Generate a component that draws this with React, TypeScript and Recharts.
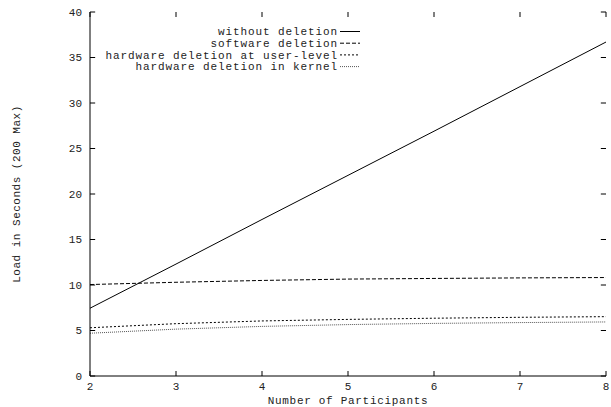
import React from 'react';
import { LineChart, Line, XAxis, YAxis, ReferenceLine } from 'recharts';

const participants = [2, 3, 4, 5, 6, 7, 8];
const withoutDeletion = [7.45, 12.3, 17.2, 22.05, 26.9, 31.8, 36.7];
const softwareDeletion = [10.05, 10.3, 10.5, 10.65, 10.72, 10.78, 10.82];
const hwUserLevel = [5.3, 5.75, 6.05, 6.22, 6.35, 6.45, 6.52];
const hwKernel = [4.7, 5.15, 5.45, 5.65, 5.78, 5.87, 5.94];
const xTicks = [2, 3, 4, 5, 6, 7, 8];
const yTicks = [0, 5, 10, 15, 20, 25, 30, 35, 40];

const series = [
  { key: 'without', name: 'without deletion', values: withoutDeletion, dash: undefined as string | undefined, color: '#000' },
  { key: 'software', name: 'software deletion', values: softwareDeletion, dash: '4 2', color: '#000' },
  { key: 'user', name: 'hardware deletion at user-level', values: hwUserLevel, dash: '2 2', color: '#000' },
  { key: 'kernel', name: 'hardware deletion in kernel', values: hwKernel, dash: '1 1', color: '#555' },
];

const data = participants.map((p, i) => {
  const row: Record<string, number> = { x: p };
  series.forEach((s) => (row[s.key] = s.values[i]));
  return row;
});

const FONT = '"Liberation Mono", "DejaVu Sans Mono", monospace';
const TXT = '#222';
const X0 = 2, X1 = 8, Y0 = 0, Y1 = 40;
const TX = 0.06; // inward tick length in x units
const TY = 0.55; // inward tick length in y units

const Legend = () => (
  <svg width={611} height={407} style={{ position: 'absolute', left: 0, top: 0, pointerEvents: 'none' }}>
    {series.map((s, i) => {
      const y = 31.5 + i * 11.7;
      return (
        <g key={s.key}>
          <text x={338} y={y} dy="0.35em" textAnchor="end" fontFamily={FONT} fontSize={11} letterSpacing={0.9} fill={TXT}>
            {s.name}
          </text>
          <line x1={340} x2={360} y1={y} y2={y} stroke={s.color} strokeWidth={1} strokeDasharray={s.dash} />
        </g>
      );
    })}
  </svg>
);

export default function App() {
  const tickStyle = { fontFamily: FONT, fontSize: 11, fill: TXT };
  const tickSegs: { a: { x: number; y: number }; b: { x: number; y: number } }[] = [];
  xTicks.forEach((v) => {
    tickSegs.push({ a: { x: v, y: Y0 }, b: { x: v, y: Y0 + TY } });
    tickSegs.push({ a: { x: v, y: Y1 }, b: { x: v, y: Y1 - TY } });
  });
  yTicks.forEach((v) => {
    tickSegs.push({ a: { x: X0, y: v }, b: { x: X0 + TX, y: v } });
    tickSegs.push({ a: { x: X1, y: v }, b: { x: X1 - TX, y: v } });
  });
  return (
    <div style={{ position: 'absolute', left: 0, top: 0, width: 611, height: 407, background: '#fff' }}>
      <LineChart width={611} height={407} data={data} margin={{ top: 12, right: 5, bottom: 0, left: 0 }}>
        <XAxis
          xAxisId="b"
          dataKey="x"
          type="number"
          domain={[X0, X1]}
          ticks={xTicks}
          height={31}
          orientation="bottom"
          axisLine={{ stroke: '#000' }}
          tickLine={false}
          tickSize={0}
          tickMargin={6}
          tick={tickStyle}
          label={{ value: 'Number of Participants', position: 'insideBottom', offset: 3, style: { fontFamily: FONT, fontSize: 11, letterSpacing: 0.7, fill: TXT } }}
        />
        <XAxis
          xAxisId="t"
          dataKey="x"
          type="number"
          domain={[X0, X1]}
          ticks={xTicks}
          height={0}
          orientation="top"
          axisLine={{ stroke: '#000' }}
          tickLine={false}
          tick={false}
        />
        <YAxis
          yAxisId="l"
          type="number"
          domain={[Y0, Y1]}
          ticks={yTicks}
          width={90}
          orientation="left"
          axisLine={{ stroke: '#000' }}
          tickLine={false}
          tickSize={0}
          tickMargin={8}
          tick={tickStyle}
          label={{ value: 'Load in Seconds (200 Max)', angle: -90, position: 'insideLeft', offset: 16, style: { fontFamily: FONT, fontSize: 11, letterSpacing: 0.5, fill: TXT, textAnchor: 'middle' } }}
        />
        <YAxis
          yAxisId="r"
          type="number"
          domain={[Y0, Y1]}
          ticks={yTicks}
          width={0}
          orientation="right"
          axisLine={{ stroke: '#000' }}
          tickLine={false}
          tick={false}
        />
        {tickSegs.map((t, i) => (
          <ReferenceLine key={'t' + i} xAxisId="b" yAxisId="l" segment={[t.a, t.b]} stroke="#000" strokeWidth={1} ifOverflow="visible" />
        ))}
        {series.map((s) => (
          <Line
            key={s.key}
            xAxisId="b"
            yAxisId="l"
            dataKey={s.key}
            name={s.name}
            type="linear"
            stroke={s.color}
            strokeWidth={1}
            strokeDasharray={s.dash}
            dot={false}
            activeDot={false}
            isAnimationActive={false}
          />
        ))}
      </LineChart>
      <Legend />
    </div>
  );
}
